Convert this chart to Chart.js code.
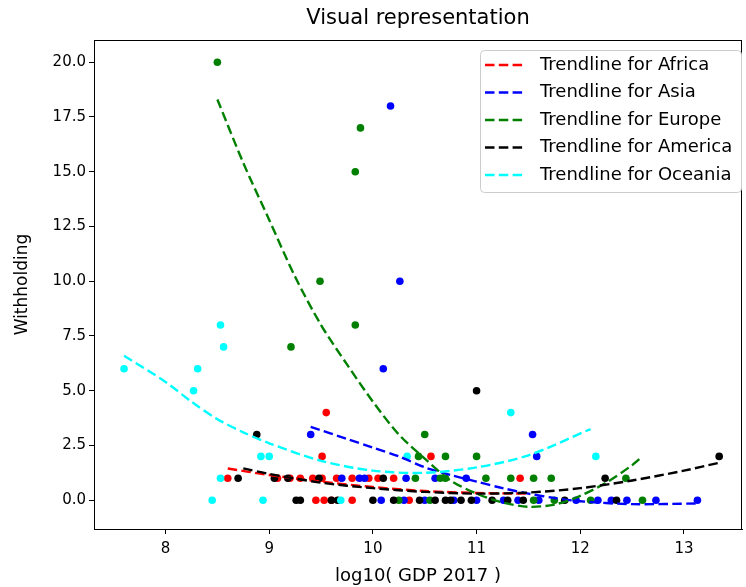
<!DOCTYPE html>
<html>
<head>
<meta charset="utf-8">
<script src="https://cdn.jsdelivr.net/npm/chart.js@4.4.0/dist/chart.umd.min.js"></script>
<style>
  body { margin: 0; background: #fff; }
  canvas { display: block; }
</style>
</head>
<body>
<canvas id="chart" width="746" height="587"></canvas>
<script>
// Scatter values (x = log10 GDP 2017, y = withholding)
const africaX = [8.6, 9.08, 9.2, 9.3, 9.42, 9.51, 9.65, 9.8, 9.96, 10.05, 10.2, 11.42, 9.55, 9.51, 10.56, 9.45, 9.53, 9.6, 9.8, 10.35];
const africaY = [1, 1, 1, 1, 1, 1, 1, 1, 1, 1, 1, 1, 4, 2, 2, 0, 0, 0, 0, 0];

const asiaX = [10.17, 10.26, 10.1, 9.4, 11.54, 11.58, 9.7, 9.87, 9.92, 10.32, 10.6, 10.9,
    10.08, 10.3, 10.5, 10.78, 11.0, 11.26, 11.4, 11.6, 11.96, 12.17, 12.3, 12.45, 12.73, 13.13];
const asiaY = [18, 10, 6, 3, 3, 2, 1, 1, 1, 1, 1, 1, 0, 0, 0, 0, 0, 0, 0, 0, 0, 0, 0, 0, 0, 0];

const europeX = [8.5, 9.88, 9.83, 9.49, 9.83, 9.21, 10.5, 10.44, 10.7, 11.0, 10.41, 10.65, 10.7, 11.09,
    11.33, 11.55, 11.72, 12.44, 10.25, 10.55, 11.55, 11.75, 12.1, 12.6];
const europeY = [20, 17, 15, 10, 8, 7, 3, 2, 2, 2, 1, 1, 1, 1, 1, 1, 1, 1, 0, 0, 0, 0, 0, 0];

const americaX = [11.0, 8.88, 13.34, 12.24, 8.7, 9.05, 9.18, 9.48, 10.1, 9.26, 9.3, 9.6, 9.66, 10.0, 10.2,
    10.45, 10.6, 10.7, 10.75, 10.85, 10.95, 11.15, 11.3, 11.45, 11.85, 12.35];
const americaY = [5, 3, 2, 1, 1, 1, 1, 1, 1, 0, 0, 0, 0, 0, 0, 0, 0, 0, 0, 0, 0, 0, 0, 0, 0, 0];

const oceaniaX = [7.6, 8.53, 8.56, 8.31, 8.27, 8.92, 9.0, 10.33, 11.33, 12.15, 8.53, 8.45, 8.94, 9.69];
const oceaniaY = [6, 8, 7, 6, 5, 2, 2, 2, 4, 2, 1, 0, 0, 0];

// Trendlines
const africaTrendX = [8.6, 9.0, 9.5, 10.0, 10.5, 11.0, 11.5];
const africaTrendY = [1.45, 1.15, 0.85, 0.6, 0.42, 0.33, 0.3];

const asiaTrendX = [9.4, 9.75, 10.0, 10.25, 10.5, 10.75, 11.0, 11.25, 11.5, 11.75, 12.0, 12.5, 13.13];
const asiaTrendY = [3.35, 2.8, 2.4, 2.0, 1.5, 1.15, 0.85, 0.55, 0.3, 0.1, -0.05, -0.18, -0.15];

const europeTrendX = [8.5, 8.75, 9.0, 9.25, 9.5, 9.75, 10.0, 10.25, 10.5, 10.75, 11.0, 11.25, 11.5, 11.75, 12.0, 12.25, 12.5, 12.6];
const europeTrendY = [18.3, 15.4, 12.8, 10.2, 8.0, 6.2, 4.5, 3.0, 1.9, 0.9, 0.3, -0.1, -0.3, -0.2, 0.2, 0.8, 1.6, 2.0];

const americaTrendX = [8.75, 9.0, 9.5, 10.0, 10.5, 11.0, 11.5, 12.0, 12.5, 13.0, 13.33];
const americaTrendY = [1.45, 1.2, 0.8, 0.55, 0.38, 0.3, 0.35, 0.55, 0.9, 1.35, 1.7];

const oceaniaTrendX = [7.6, 8.0, 8.25, 8.5, 8.75, 9.0, 9.5, 10.0, 10.5, 11.0, 11.5, 12.1];
const oceaniaTrendY = [6.6, 5.4, 4.5, 3.7, 3.1, 2.6, 1.8, 1.35, 1.25, 1.5, 2.05, 3.25];

const continents = ['Africa', 'Asia', 'Europe', 'America', 'Oceania'];
const colors = ['#ff0000', '#0000ff', '#008000', '#000000', '#00ffff'];
const xTickValues = [8, 9, 10, 11, 12, 13];
const chartTitle = 'Visual representation';

const FONT = "'DejaVu Sans', sans-serif";
const DASH = [9.5, 4.3];

function toPoints(xs, ys) {
    return xs.map((x, i) => ({ x: x, y: ys[i] }));
}

const scatterSets = [
    [africaX, africaY], [asiaX, asiaY], [europeX, europeY], [americaX, americaY], [oceaniaX, oceaniaY]
];
const trendSets = [
    [africaTrendX, africaTrendY], [asiaTrendX, asiaTrendY], [europeTrendX, europeTrendY],
    [americaTrendX, americaTrendY], [oceaniaTrendX, oceaniaTrendY]
];

const datasets = [];
continents.forEach((name, i) => {
    datasets.push({
        type: 'scatter',
        label: name,
        data: toPoints(scatterSets[i][0], scatterSets[i][1]),
        backgroundColor: colors[i],
        borderWidth: 0,
        pointRadius: 3.8,
        order: 20 - i
    });
});
continents.forEach((name, i) => {
    datasets.push({
        type: 'line',
        label: 'Trendline for ' + name,
        data: toPoints(trendSets[i][0], trendSets[i][1]),
        borderColor: colors[i],
        borderWidth: 2.4,
        borderDash: DASH,
        pointRadius: 0,
        fill: false,
        tension: 0.3,
        order: 10 - i
    });
});

// Title over the plot area, top/right spines, legend box in the upper right
const framePlugin = {
    id: 'frame',
    afterDraw(chart) {
        const { ctx, chartArea: a } = chart;
        ctx.save();
        ctx.strokeStyle = '#000';
        ctx.lineWidth = 1;
        ctx.strokeRect(a.left + 0.5, a.top + 0.5, a.right - a.left - 1, a.bottom - a.top);

        ctx.fillStyle = '#000';
        ctx.font = '21px ' + FONT;
        ctx.textAlign = 'center';
        ctx.textBaseline = 'middle';
        ctx.fillText(chartTitle, (a.left + a.right) / 2, 19);

        // legend
        const bx = 480, by = 50, bw = 261, bh = 142;
        ctx.beginPath();
        ctx.roundRect(bx + 0.5, by + 0.5, bw, bh, 4);
        ctx.fillStyle = 'rgba(255,255,255,0.8)';
        ctx.fill();
        ctx.strokeStyle = '#cccccc';
        ctx.stroke();
        ctx.font = '18px ' + FONT;
        ctx.textBaseline = 'middle';
        ctx.textAlign = 'left';
        continents.forEach((name, i) => {
            const y = 65 + i * 27.5;
            ctx.beginPath();
            ctx.setLineDash(DASH);
            ctx.strokeStyle = colors[i];
            ctx.lineWidth = 2.4;
            ctx.moveTo(485, y);
            ctx.lineTo(523, y);
            ctx.stroke();
            ctx.setLineDash([]);
            ctx.fillStyle = '#000';
            ctx.fillText('Trendline for ' + name, 540, y);
        });
        ctx.restore();
    }
};

new Chart(document.getElementById('chart'), {
    type: 'scatter',
    data: { datasets: datasets },
    options: {
        responsive: false,
        animation: false,
        layout: { padding: { left: 0, right: 2, top: 40, bottom: 0 } },
        scales: {
            x: {
                type: 'linear',
                min: 7.31,
                max: 13.56,
                afterFit(scale) { scale.height = 58; },
                afterBuildTicks(scale) { scale.ticks = xTickValues.map(v => ({ value: v })); },
                ticks: {
                    color: '#000',
                    padding: 6,
                    font: { family: FONT, size: 15 },
                    callback: v => String(v)
                },
                grid: { drawOnChartArea: false, drawTicks: true, tickLength: 5, color: '#000' },
                border: { display: true, color: '#000', width: 1 },
                title: {
                    display: true,
                    text: 'log10( GDP 2017 )',
                    color: '#000',
                    font: { family: FONT, size: 18 },
                    padding: { top: 0, bottom: 0 }
                }
            },
            y: {
                type: 'linear',
                min: -1.315,
                max: 21.015,
                afterFit(scale) { scale.width = 94; },
                ticks: {
                    stepSize: 2.5,
                    includeBounds: false,
                    color: '#000',
                    padding: 3,
                    font: { family: FONT, size: 15 },
                    callback: v => v.toFixed(1)
                },
                grid: { drawOnChartArea: false, drawTicks: true, tickLength: 5, color: '#000' },
                border: { display: true, color: '#000', width: 1 },
                title: {
                    display: true,
                    text: 'Withholding',
                    color: '#000',
                    font: { family: FONT, size: 17 },
                    padding: { top: 12, bottom: 0 }
                }
            }
        },
        plugins: {
            legend: { display: false },
            tooltip: { enabled: false },
            title: { display: false }
        }
    },
    plugins: [framePlugin]
});
</script>
</body>
</html>
